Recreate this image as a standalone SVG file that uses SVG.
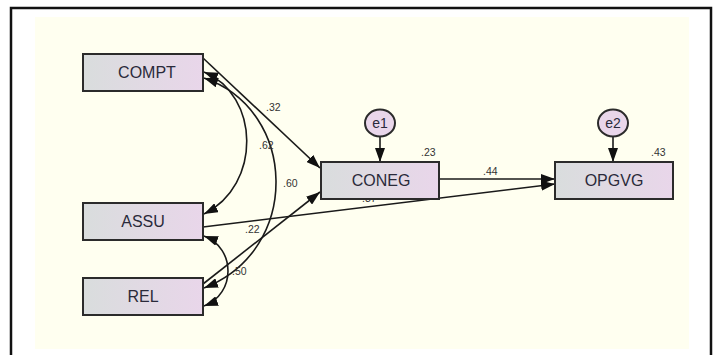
<svg xmlns="http://www.w3.org/2000/svg" width="713" height="355" viewBox="0 0 713 355">
<defs>
<linearGradient id="bx" x1="0" y1="0" x2="1" y2="0">
<stop offset="0" stop-color="#d9dddd"/>
<stop offset="1" stop-color="#e9d6ea"/>
</linearGradient>
<marker id="ah" markerWidth="14" markerHeight="10" refX="14" refY="5" orient="auto-start-reverse" markerUnits="userSpaceOnUse">
<path d="M0,0 L14,5 L0,10 z" fill="#111"/>
</marker>
<style>
.box{fill:url(#bx);stroke:#2b2b2b;stroke-width:2}
.err{fill:#e9d6ea;stroke:#2b2b2b;stroke-width:2}
.lbl{font-family:"Liberation Sans",Arial,sans-serif;font-size:16px;fill:#2a2a3a;text-anchor:middle}
.num{font-family:"Liberation Sans",Arial,sans-serif;font-size:10.5px;fill:#333}
.ln{fill:none;stroke:#1a1a1a;stroke-width:1.6}
</style>
</defs>
<rect x="0" y="0" width="713" height="355" fill="#ffffff"/>
<rect x="35" y="17" width="654" height="332" fill="#fffff0"/>
<path d="M11,355 V8 H711 V355" fill="none" stroke="#111" stroke-width="2.5"/>

<g id="connectors">
<path class="ln" d="M203,58 L320,168" marker-end="url(#ah)"/>
<path class="ln" d="M203,284 L320,192" marker-end="url(#ah)"/>
<path class="ln" d="M203,227 L555,184" marker-end="url(#ah)"/>
<path class="ln" d="M439,179 L555,179" marker-end="url(#ah)"/>
<path class="ln" d="M380,136 L380,162" marker-end="url(#ah)"/>
<path class="ln" d="M613,136 L613,162" marker-end="url(#ah)"/>
<path class="ln" d="M204,72 C260,95 262,185 204,214" marker-start="url(#ah)" marker-end="url(#ah)"/>
<path class="ln" d="M204,78 C298,110 302,250 204,288" marker-start="url(#ah)" marker-end="url(#ah)"/>
<path class="ln" d="M204,236 C236,248 236,294 204,306" marker-start="url(#ah)" marker-end="url(#ah)"/>
<text class="num" x="266" y="111">.32</text>
<text class="num" x="259" y="149">.62</text>
<text class="num" x="283" y="187">.60</text>
<text class="num" x="245" y="233">.22</text>
<text class="num" x="232" y="275">.50</text>
<text class="num" x="362" y="202">.37</text>
<text class="num" x="483" y="175">.44</text>
<text class="num" x="421" y="156">.23</text>
<text class="num" x="651" y="156">.43</text>
</g>

<g id="COMPT"><rect class="box" x="83" y="54" width="120" height="37"/><text class="lbl" x="147" y="78">COMPT</text></g>
<g id="ASSU"><rect class="box" x="83" y="203" width="120" height="37"/><text class="lbl" x="143" y="227">ASSU</text></g>
<g id="REL"><rect class="box" x="83" y="278" width="120" height="37"/><text class="lbl" x="143" y="302">REL</text></g>
<g id="CONEG"><rect class="box" x="321" y="162" width="118" height="37"/><text class="lbl" x="381" y="186">CONEG</text></g>
<g id="OPGVG"><rect class="box" x="555" y="162" width="118" height="37"/><text class="lbl" x="614" y="186">OPGVG</text></g>
<g id="e1"><ellipse class="err" cx="380" cy="123" rx="15" ry="13.5"/><text class="lbl" x="380" y="128" style="font-size:14px">e1</text></g>
<g id="e2"><ellipse class="err" cx="613" cy="123" rx="15" ry="13.5"/><text class="lbl" x="613" y="128" style="font-size:14px">e2</text></g>
</svg>
